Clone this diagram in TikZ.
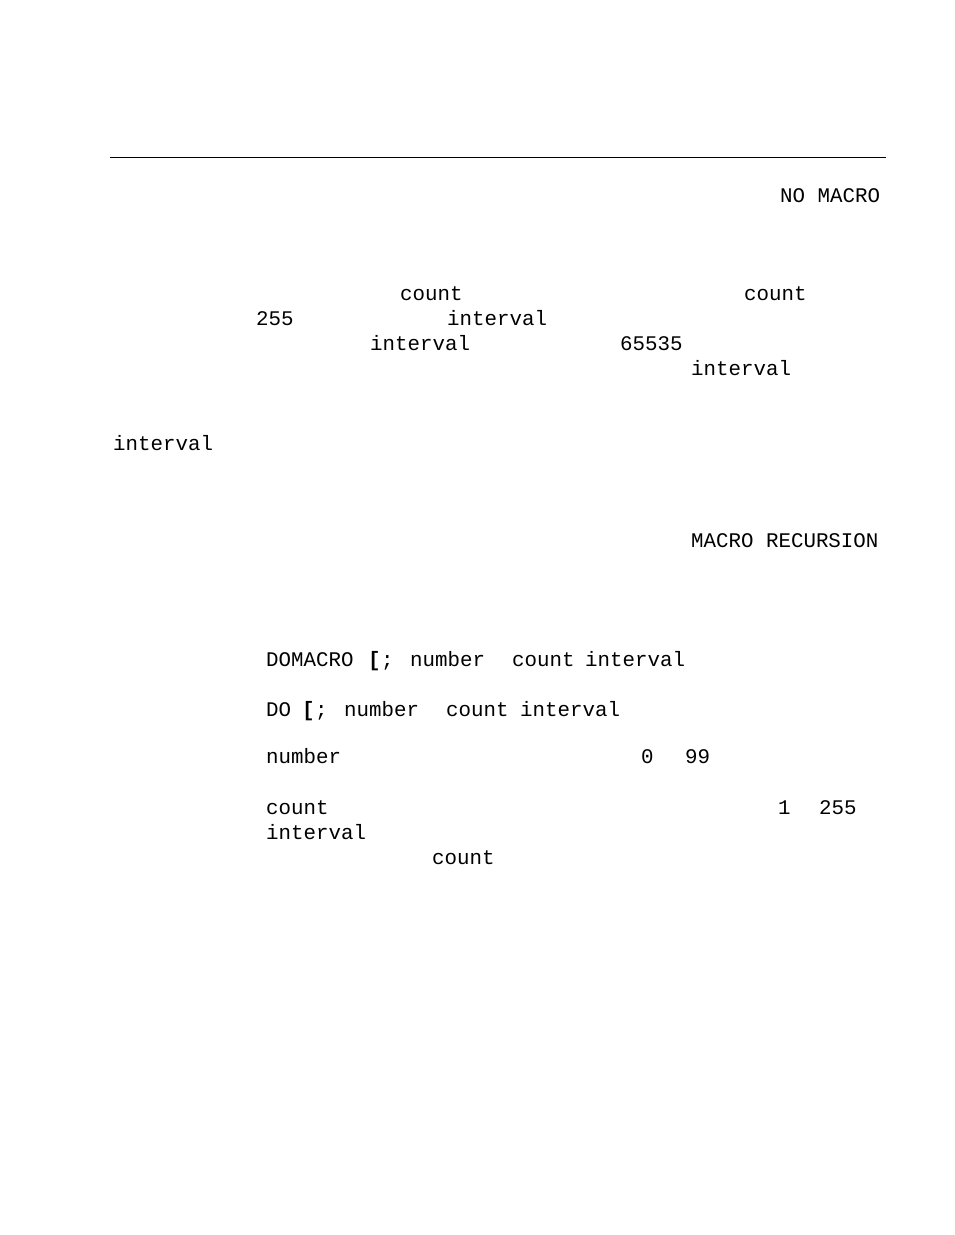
\documentclass[tikz,border=0pt]{standalone}
\usepackage{fontspec}
\setmonofont{Liberation Mono}
\begin{document}
\begin{tikzpicture}[x=1pt,y=-1pt,
  t/.style={anchor=base west,inner sep=0pt,font=\ttfamily\fontsize{20.8}{24}\selectfont},
  tb/.style={t,font=\ttfamily\bfseries\fontsize{20.8}{24}\selectfont}]
\useasboundingbox (0,0) rectangle (954,1235);
\draw[line width=1pt] (110,157) coordinate (l1) -- (886,157) coordinate (l2);
\def\T#1#2#3#4{\node[t] (#1) at (#2,#3+6) {#4};}
\T{a1}{780}{196}{NO MACRO}
\T{a2}{400}{294}{count}
\T{a3}{744}{294}{count}
\T{a4}{256}{319}{255}
\T{a5}{447}{319}{interval}
\T{a6}{370}{344}{interval}
\T{a7}{620}{344}{65535}
\T{a8}{691}{369}{interval}
\T{a9}{113}{444}{interval}
\T{b1}{691}{541}{MACRO RECURSION}
\T{c1}{266}{660}{DOMACRO}
\node[tb] (c2) at (368,666) {[};
\T{c3}{381}{660}{;}
\T{c4}{410}{660}{number}
\T{c5}{512}{660}{count}
\T{c6}{585}{660}{interval}
\T{d1}{266}{710}{DO}
\node[tb] (d2) at (302,716) {[};
\T{d3}{315}{710}{;}
\T{d4}{344}{710}{number}
\T{d5}{446}{710}{count}
\T{d6}{520}{710}{interval}
\T{e1}{266}{757}{number}
\T{e2}{641}{757}{0}
\T{e3}{685}{757}{99}
\T{f1}{266}{808}{count}
\T{f2}{778}{808}{1}
\T{f3}{819}{808}{255}
\T{f4}{266}{833}{interval}
\T{f5}{432}{858}{count}
\end{tikzpicture}
\end{document}
